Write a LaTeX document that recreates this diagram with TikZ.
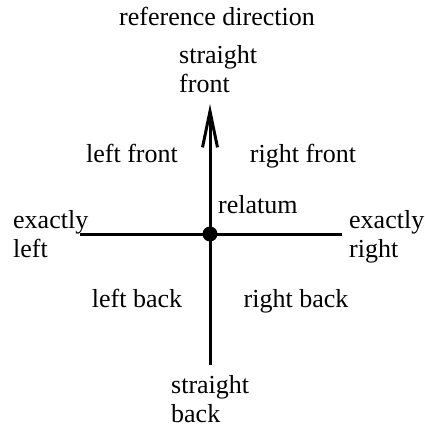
\documentclass[tikz,border=0pt]{standalone}
\usepackage{fontspec}
\setmainfont{Liberation Serif}
\usepackage{tikz}
\usetikzlibrary{arrows.meta, positioning}

\begin{document}
\begin{tikzpicture}[
    x=1pt, y=-1pt,
    lbl/.style={inner sep=0pt, font=\fontsize{26}{29}\selectfont},
    twoline/.style={lbl, align=left, anchor=north west},
    axis/.style={line width=3pt},
    arrow/.style={axis, -{Straight Barb[length=36pt, width=15pt]}},
    dot/.style={circle, fill=black, inner sep=0pt, minimum size=15pt}
]
    \useasboundingbox (0,0) rectangle (425,432);

    \coordinate (front) at (210,104);
    \coordinate (back)  at (210,365);
    \coordinate (left)  at (80,234);
    \coordinate (right) at (342,234);

    \draw[arrow] (back) -- (front);
    \draw[axis] (left) -- (right);
    \node[dot] (relatum) at (210,234) {};

    \node[lbl, anchor=base] (refdir) at (217,25) {reference direction};
    \node[twoline] (sfront) at (179,45) {straight\\front};
    \node[twoline] (sback) at (171,375) {straight\\back};
    \node[twoline] (xleft) at (13,210) {exactly\\left};
    \node[twoline] (xright) at (349,210) {exactly\\right};
    \node[lbl, anchor=base west] (rellbl) at (218,213) {relatum};

    \node[lbl, anchor=base] (lfront) at (132,162) {left front};
    \node[lbl, anchor=base] (rfront) at (303,162) {right front};
    \node[lbl, anchor=base] (lback) at (137,307) {left back};
    \node[lbl, anchor=base] (rback) at (296,307) {right back};
\end{tikzpicture}
\end{document}
